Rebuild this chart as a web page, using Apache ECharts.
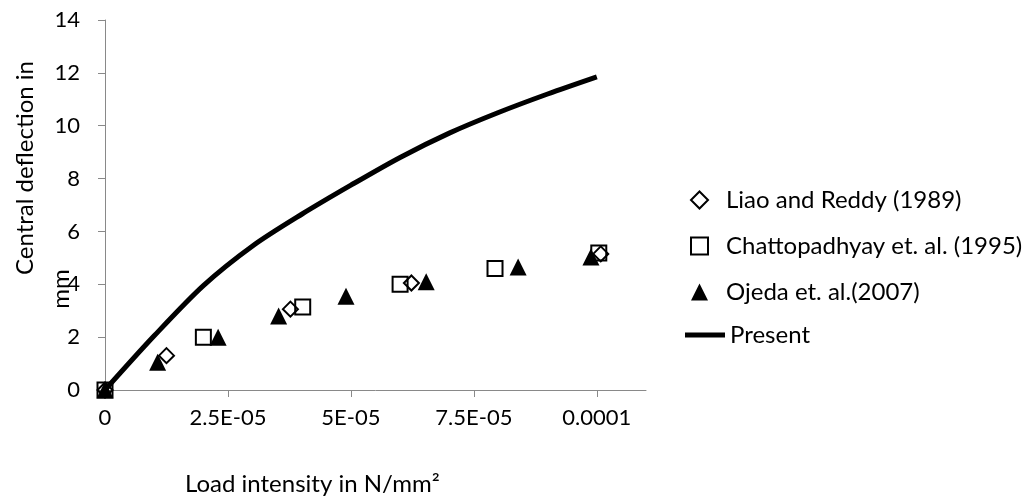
<!DOCTYPE html>
<html lang="en">
<head>
    <meta charset="UTF-8">
    <title>Central deflection</title>
    <script src="https://cdn.jsdelivr.net/npm/echarts@6/dist/echarts.min.js"></script>
    <style>
        html, body { margin: 0; padding: 0; background: #fff; }
    </style>
</head>
<body>

    <div id="main" style="width: 1035px;height:502px;"></div>

    <script type="text/javascript">
        // 数据
        var liaoData = [[0, 0], [1.25e-5, 1.3], [3.77e-5, 3.06], [6.23e-5, 4.05], [1.008e-4, 5.15]];
        var chattoData = [[0, 0], [2.0e-5, 2.0], [4.02e-5, 3.14], [6.0e-5, 4.0], [7.93e-5, 4.6], [1.004e-4, 5.18]];
        var ojedaData = [[0, 0], [1.07e-5, 1.05], [2.3e-5, 2.0], [3.53e-5, 2.8], [4.9e-5, 3.55],
                         [6.53e-5, 4.1], [8.4e-5, 4.65], [9.88e-5, 5.03]];
        var presentX = [0, 1e-5, 2e-5, 3e-5, 4e-5, 5e-5, 6e-5, 7e-5, 8e-5, 9e-5, 1e-4];
        var presentY = [0, 2.05, 3.95, 5.45, 6.65, 7.75, 8.8, 9.72, 10.5, 11.2, 11.85];

        var xTickValues = [0, 2.5e-5, 5e-5, 7.5e-5, 1e-4];
        var xTickLabels = ['0', '2.5E-05', '5E-05', '7.5E-05', '0.0001'];

        var seriesNames = ['Liao and Reddy (1989)', 'Chattopadhyay et. al. (1995)', 'Ojeda et. al.(2007)', 'Present'];

        var FONT = 'Lato';
        var AXIS_GREY = '#898989';

        var myChart = echarts.init(document.getElementById('main'));

        var presentData = presentX.map(function (x, i) { return [x, presentY[i]]; });

        var option = {
            animation: false,
            backgroundColor: '#fff',
            textStyle: { fontFamily: FONT, color: '#000' },
            grid: { left: 105, right: 389, top: 20, bottom: 112 },
            xAxis: {
                type: 'value',
                min: 0,
                max: 0.00011,
                interval: 2.5e-5,
                splitLine: { show: false },
                axisLine: { lineStyle: { color: AXIS_GREY, width: 1 } },
                axisTick: { length: 7, lineStyle: { color: AXIS_GREY } },
                axisLabel: {
                    showMaxLabel: false,
                    margin: 17,
                    fontFamily: FONT,
                    fontSize: 22,
                    color: '#000',
                    formatter: function (v) {
                        for (var i = 0; i < xTickValues.length; i++) {
                            if (Math.abs(v - xTickValues[i]) < 1e-9) return xTickLabels[i];
                        }
                        return '';
                    }
                }
            },
            yAxis: {
                type: 'value',
                min: 0,
                max: 14,
                interval: 2,
                splitLine: { show: false },
                axisLine: { show: true, lineStyle: { color: AXIS_GREY, width: 1 } },
                axisTick: { show: true, length: 7, lineStyle: { color: AXIS_GREY } },
                axisLabel: { margin: 25, fontFamily: FONT, fontSize: 22, color: '#000' }
            },
            legend: [{
                orient: 'vertical',
                left: 685,
                top: 182,
                itemWidth: 17,
                itemHeight: 17,
                itemGap: 20,
                data: seriesNames.slice(0, 3),
                textStyle: { fontFamily: FONT, fontSize: 24, color: '#000', lineHeight: 26, padding: [0, 0, 0, 13] }
            }, {
                orient: 'vertical',
                left: 680,
                top: 317,
                itemWidth: 40,
                itemHeight: 5,
                data: [{ name: seriesNames[3], icon: 'rect' }],
                textStyle: { fontFamily: FONT, fontSize: 24, color: '#000', lineHeight: 26 }
            }],
            graphic: [{
                type: 'text',
                left: 185,
                top: 472,
                style: { text: 'Load intensity in N/mm²', fontFamily: FONT, fontSize: 24, fill: '#000' }
            }, {
                type: 'text',
                x: 25,
                y: 168,
                rotation: Math.PI / 2,
                style: { text: 'Central deflection in', fontFamily: FONT, fontSize: 24, fill: '#000', align: 'center', verticalAlign: 'middle' }
            }, {
                type: 'text',
                x: 61,
                y: 289,
                rotation: Math.PI / 2,
                style: { text: 'mm', fontFamily: FONT, fontSize: 24, fill: '#000', align: 'center', verticalAlign: 'middle' }
            }],
            series: [{
                name: seriesNames[0],
                type: 'scatter',
                symbol: 'diamond',
                symbolSize: 15,
                itemStyle: { color: 'rgba(0,0,0,0)', borderColor: '#000', borderWidth: 2, opacity: 1 },
                data: liaoData
            }, {
                name: seriesNames[1],
                type: 'scatter',
                symbol: 'rect',
                symbolSize: 15,
                itemStyle: { color: 'rgba(0,0,0,0)', borderColor: '#000', borderWidth: 2, opacity: 1 },
                data: chattoData
            }, {
                name: seriesNames[2],
                type: 'scatter',
                symbol: 'triangle',
                symbolSize: 17,
                itemStyle: { color: '#000', opacity: 1 },
                data: ojedaData
            }, {
                name: seriesNames[3],
                type: 'line',
                smooth: 0.3,
                symbol: 'none',
                lineStyle: { color: '#000', width: 5 },
                itemStyle: { color: '#000' },
                data: presentData
            }]
        };

        myChart.setOption(option);
    </script>
</body>
</html>
